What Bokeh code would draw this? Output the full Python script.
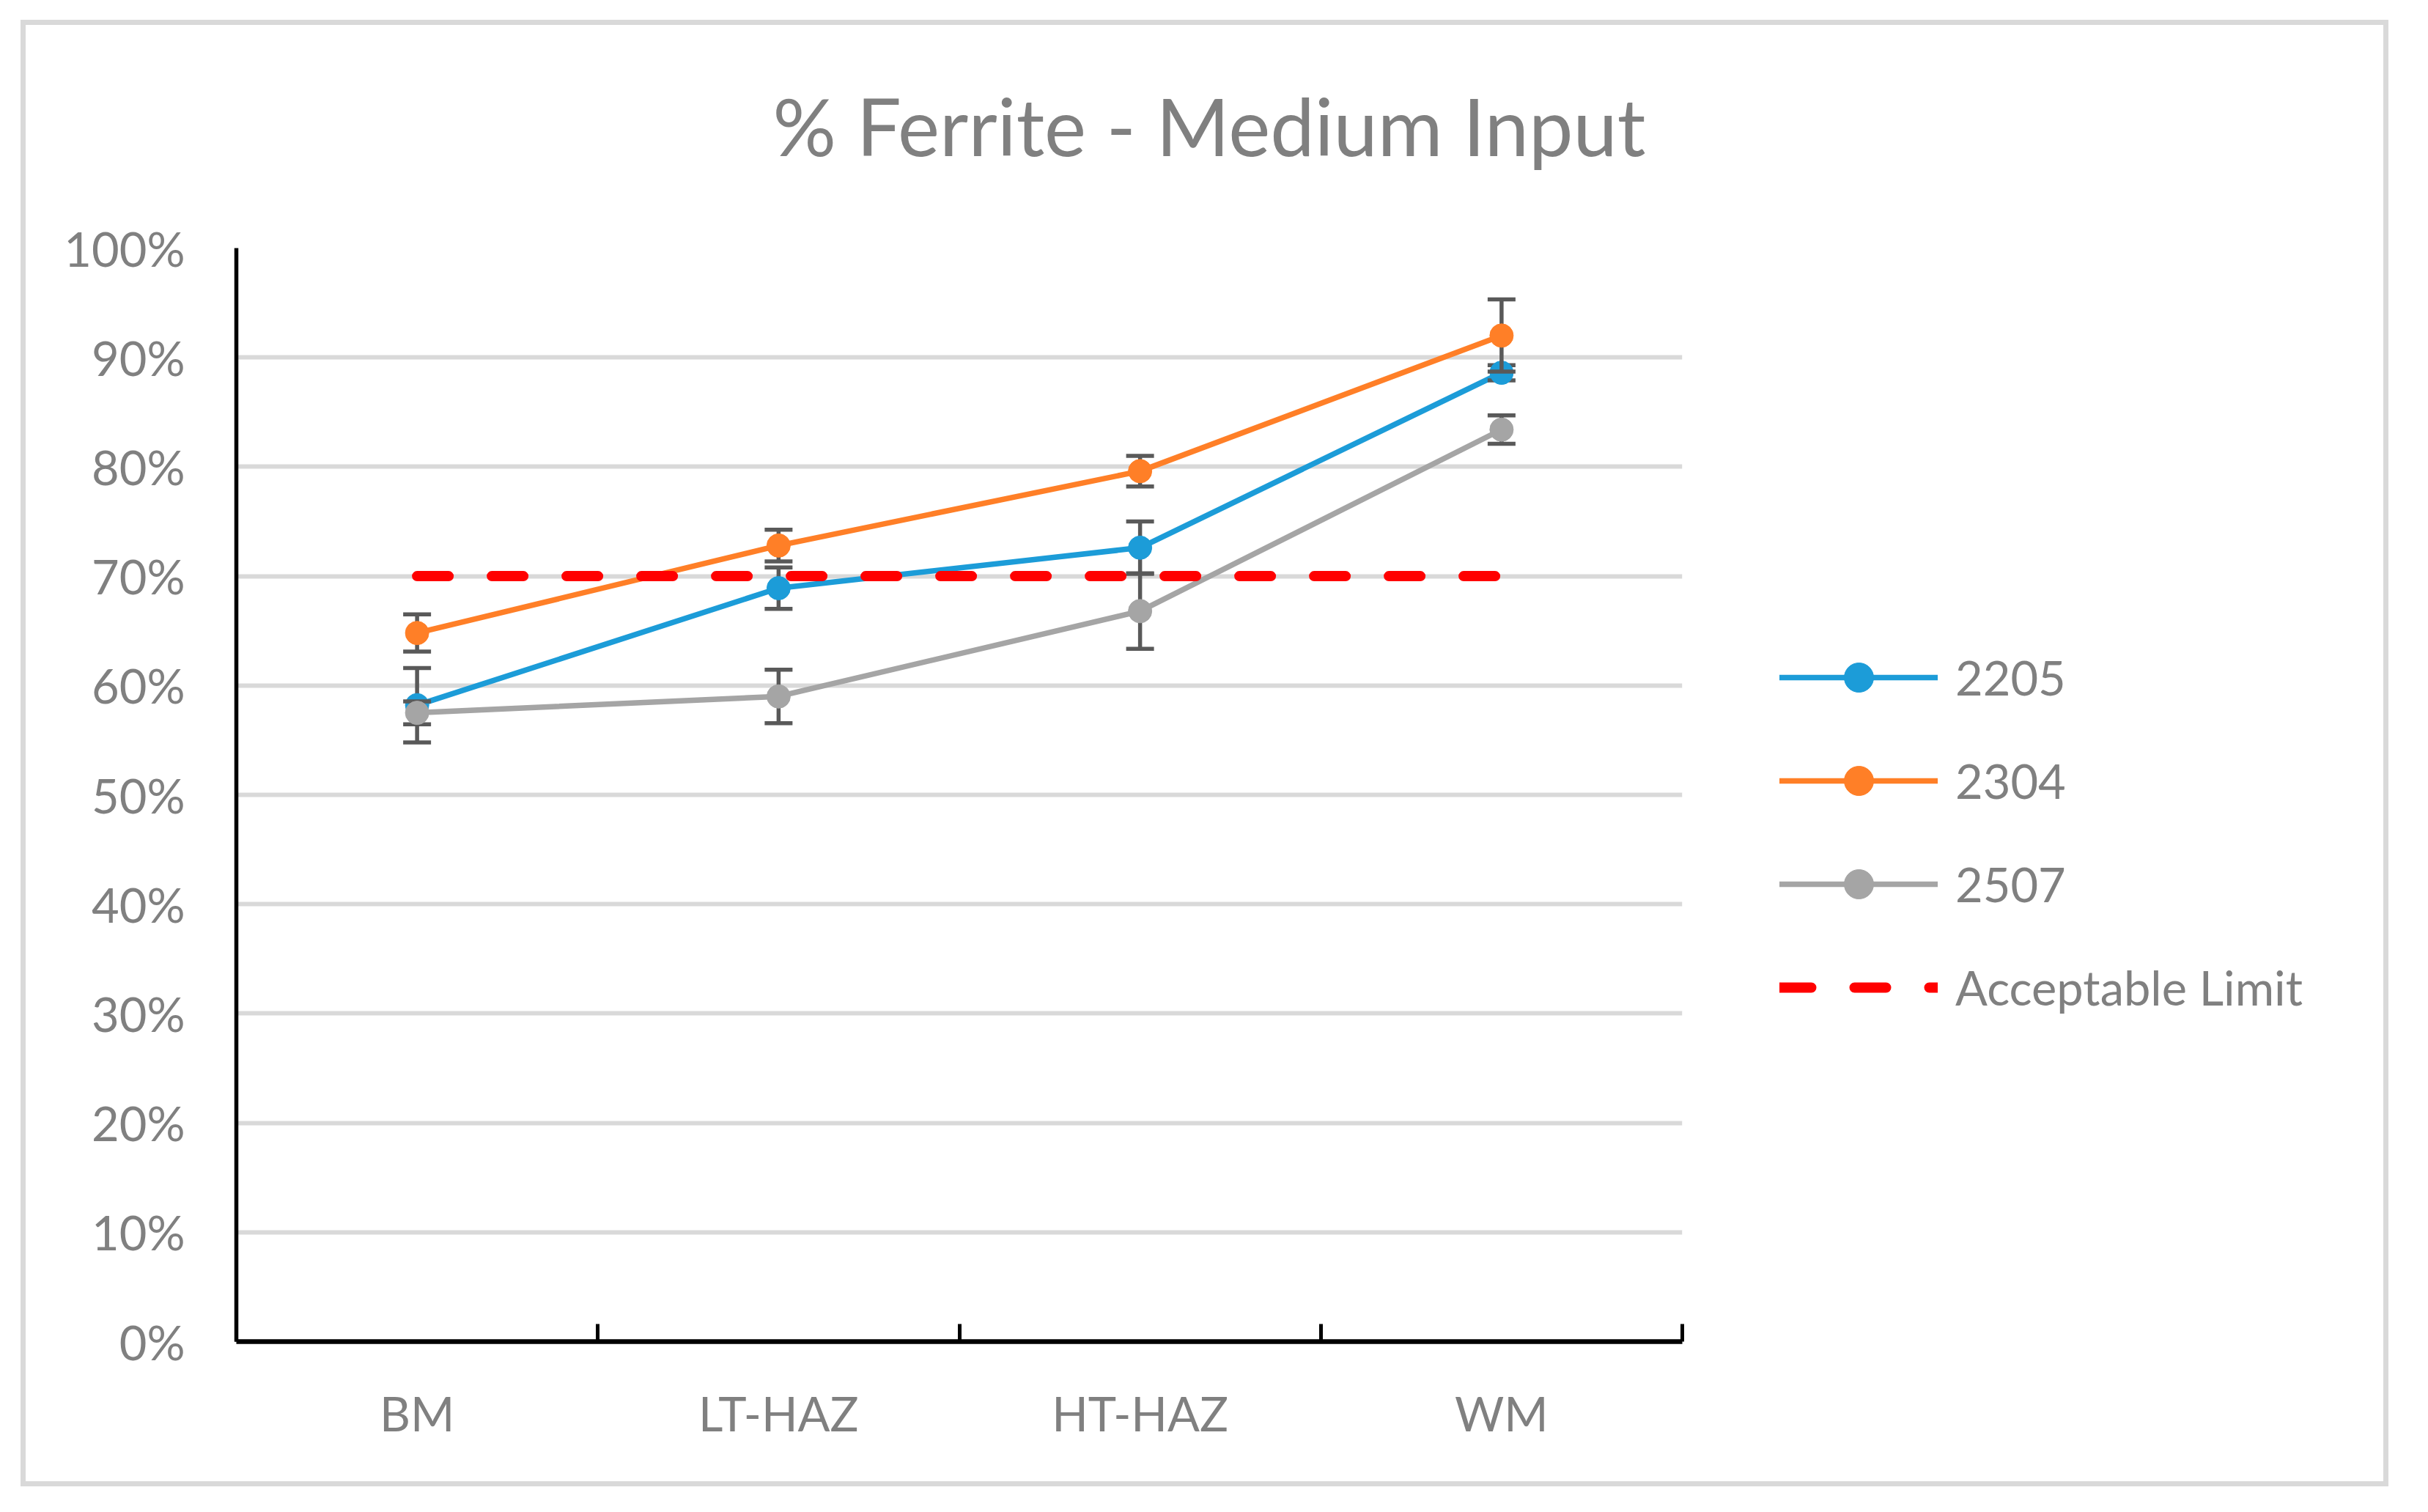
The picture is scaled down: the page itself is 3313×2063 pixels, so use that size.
from bokeh.plotting import figure
from bokeh.models import (ColumnDataSource, FixedTicker, CustomJSTickFormatter,
                          NumeralTickFormatter, Legend, LegendItem, Range1d)
from bokeh.embed import file_html
from bokeh.resources import INLINE

# ---------------- data ----------------
categories = ["BM", "LT-HAZ", "HT-HAZ", "WM"]
series_names = ["2205", "2304", "2507"]
v2205 = [0.582, 0.689, 0.726, 0.886]
e2205 = [0.034, 0.019, 0.024, 0.007]
v2304 = [0.648, 0.728, 0.796, 0.920]
e2304 = [0.017, 0.0145, 0.014, 0.033]
v2507 = [0.575, 0.590, 0.668, 0.834]
e2507 = [0.0105, 0.0245, 0.0345, 0.013]
limit = [0.70, 0.70, 0.70, 0.70]
limit_name = "Acceptable Limit"
y_ticks = [0.0, 0.1, 0.2, 0.3, 0.4, 0.5, 0.6, 0.7, 0.8, 0.9, 1.0]
title_text = "% Ferrite -  Medium Input"

# ---------------- style ----------------
colors = ["#1c9cd8", "#ff7f27", "#a5a5a5"]
err_color = "#595959"
limit_color = "#ff0000"
text_color = "#808080"
FONT = "Lato"

W, H = 3295, 2045
FL, FR, FT, FB = 322, 2295, 337, 1830

p = figure(width=W, height=H, output_backend="svg", toolbar_location=None, tools="",
           x_range=Range1d(0, len(categories)), y_range=Range1d(0, 1),
           min_border_left=FL, min_border_right=W - FR,
           min_border_top=FT, min_border_bottom=H - FB)
p.border_fill_alpha = 0
p.background_fill_color = "white"
p.outline_line_color = None

# outer light-gray chart border (CSS background behind the transparent canvas border)
bx0, by0, bx1, by1, bw = 28, 27, 3259, 2028, 7
p.styles = {
    "background-color": "white",
    "background-image": ", ".join(["linear-gradient(#d9d9d9, #d9d9d9)"] * 4),
    "background-size": f"{bx1-bx0}px {bw}px, {bx1-bx0}px {bw}px, {bw}px {by1-by0}px, {bw}px {by1-by0}px",
    "background-position": f"{bx0}px {by0}px, {bx0}px {by1-bw}px, {bx0}px {by0}px, {bx1-bw}px {by0}px",
    "background-repeat": "no-repeat",
}

# title
p.title.text = title_text
p.title.align = "left"
p.title.offset = 732
p.title.vertical_align = "bottom"
p.title.text_font = FONT
p.title.text_font_size = "108px"
p.title.text_font_style = "normal"
p.title.text_color = text_color
p.title.standoff = 206

# y axis
p.yaxis.ticker = FixedTicker(ticks=y_ticks)
p.yaxis.formatter = NumeralTickFormatter(format="0%")
p.yaxis.major_tick_in = 0
p.yaxis.major_tick_out = 0
p.yaxis.minor_tick_in = 0
p.yaxis.minor_tick_out = 0
p.yaxis.axis_line_width = 5.5
p.yaxis.axis_line_color = "black"
p.yaxis.major_label_standoff = 70
p.yaxis.major_label_text_font = FONT
p.yaxis.major_label_text_font_size = "65px"
p.yaxis.major_label_text_color = text_color

# x axis: labels at category centres, tick marks at category boundaries
xs = [i + 0.5 for i in range(len(categories))]
p.xaxis.ticker = FixedTicker(ticks=xs, minor_ticks=list(range(len(categories) + 1)))
p.xaxis.formatter = CustomJSTickFormatter(args=dict(labels=categories),
                                          code="return labels[Math.floor(tick)];")
p.xaxis.major_tick_in = 0
p.xaxis.major_tick_out = 0
p.xaxis.minor_tick_in = 24
p.xaxis.minor_tick_out = 0
p.xaxis.minor_tick_line_width = 5
p.xaxis.minor_tick_line_color = "black"
p.xaxis.axis_line_width = 6.5
p.xaxis.axis_line_color = "black"
p.xaxis.major_label_standoff = 58
p.xaxis.major_label_text_font = FONT
p.xaxis.major_label_text_font_size = "65px"
p.xaxis.major_label_text_color = text_color

p.xgrid.visible = False
p.ygrid.grid_line_color = "#d9d9d9"
p.ygrid.grid_line_width = 6

# ---------------- series ----------------
items = []
for name, vals, errs, color in zip(series_names, [v2205, v2304, v2507],
                                   [e2205, e2304, e2507], colors):
    src = ColumnDataSource(dict(
        x=xs, y=vals,
        upper=[v + e for v, e in zip(vals, errs)],
        lower=[v - e for v, e in zip(vals, errs)],
    ))
    ln = p.line("x", "y", source=src, line_color=color, line_width=7.5,
                line_join="round", line_cap="round")
    p.segment(x0="x", y0="lower", x1="x", y1="upper", source=src,
              line_color=err_color, line_width=5.5)
    p.scatter("x", "upper", source=src, marker="dash", size=38,
              line_color=err_color, line_width=5.5)
    p.scatter("x", "lower", source=src, marker="dash", size=38,
              line_color=err_color, line_width=5.5)
    mk = p.scatter("x", "y", source=src, marker="circle", size=32,
                   fill_color=color, line_color=color, line_width=1)
    items.append(LegendItem(label=name, renderers=[ln, mk]))

lim_src = ColumnDataSource(dict(x=xs, y=limit))
lim = p.line("x", "y", source=lim_src, line_color=limit_color, line_width=14,
             line_dash="43 59", line_cap="round")
items.append(LegendItem(label=limit_name, renderers=[lim]))

# legend in the right-hand panel (location relative to that panel, in pixels)
legend = Legend(items=items, location=(133, FB - 1397), orientation="vertical",
                glyph_width=216, glyph_height=100, label_height=100,
                label_standoff=24, spacing=41, padding=0, margin=0,
                border_line_alpha=0, background_fill_alpha=0,
                label_text_font=FONT, label_text_font_size="65px",
                label_text_color=text_color)
p.add_layout(legend, "right")

open("out.html", "w").write(file_html(p, INLINE))
